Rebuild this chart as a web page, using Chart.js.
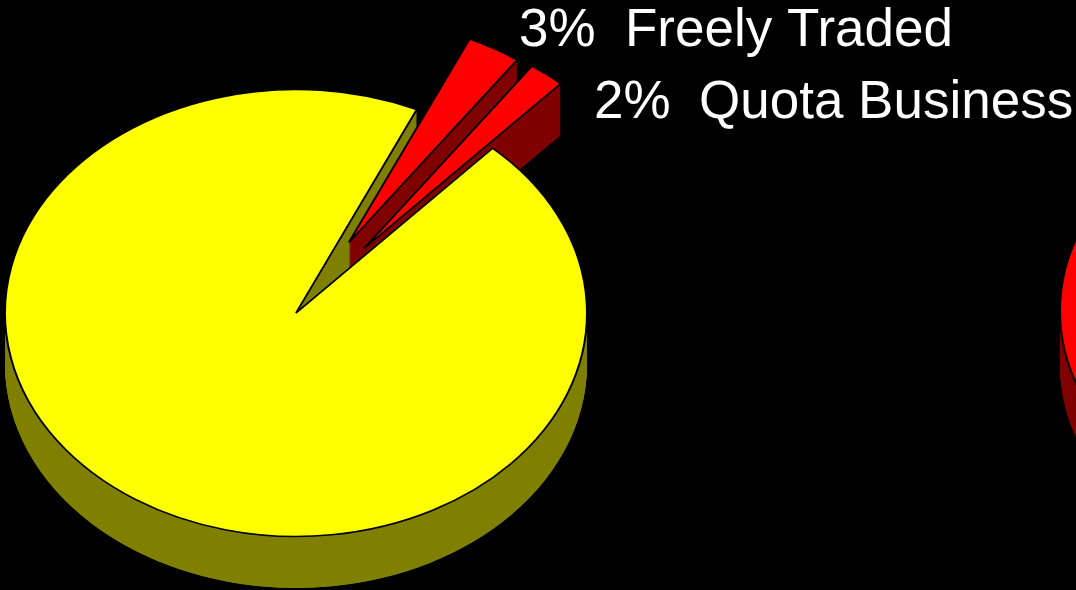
<!DOCTYPE html>
<html lang="en">
<head>
  <meta charset="UTF-8">
  <title>Shares</title>
  <script src="https://cdn.jsdelivr.net/npm/chart.js"></script>
  <style>
    html, body { margin: 0; padding: 0; background: #000; overflow: hidden; }
    body { width: 1076px; height: 590px; position: relative; }
    #mainPie { position: absolute; left: 0; top: 0; }
    #sidePie { position: absolute; left: 1000px; top: 0; }
  </style>
</head>
<body>
  <canvas id="mainPie" width="1076" height="590"></canvas>
  <canvas id="sidePie" width="686" height="622"></canvas>

  <script>
    // Data
    const categories = ["Freely Traded", "Quota Business", "Other"];
    const shares = [3, 2, 95];
    const topColors = ["#ff0000", "#ff0000", "#ffff00"];
    const sideColors = ["#800000", "#800000", "#808000"];

    // second pie, cut off at the right edge
    const rightCategories = ["Freely Traded"];
    const rightShares = [100];

    // 3D look: squash the pie and extrude it downwards
    const pie3d = {
      id: "pie3d",
      beforeDatasetsDraw(chart, args, opts) {
        const ctx = chart.ctx;
        const arcs = chart.getDatasetMeta(0).data;
        if (!arcs.length) return;
        const cx = arcs[0].x, cy = arcs[0].y;
        const depth = Math.round(opts.depth / opts.tilt);

        function drawOne(arc, i, dy, fill, bw) {
          const o = arc.options;
          const mid = (arc.startAngle + arc.endAngle) / 2;
          const off = o.offset || 0;
          ctx.save();
          ctx.translate(Math.cos(mid) * off, Math.sin(mid) * off + dy);
          arc.options = Object.assign({}, o, { offset: 0, backgroundColor: fill, borderWidth: bw });
          arc.draw(ctx);
          arc.options = o;
          ctx.restore();
        }

        ctx.save();
        ctx.translate(cx, cy);
        ctx.scale(1, opts.tilt);
        ctx.translate(-cx, -cy);

        // sides: slices in place first, exploded ones after
        const order = arcs.map((a, i) => i).sort((a, b) => (arcs[a].options.offset || 0) - (arcs[b].options.offset || 0));
        order.forEach(i => {
          const arc = arcs[i];
          for (let d = depth; d >= 1; d--) {
            drawOne(arc, i, d, opts.sideColors[i], d === depth ? arc.options.borderWidth : 0);
          }
        });
        // tops
        arcs.forEach((arc, i) => drawOne(arc, i, 0, arc.options.backgroundColor, arc.options.borderWidth));

        ctx.restore();
        return false;
      }
    };

    // percent + name labels
    const pieLabels = {
      id: "pieLabels",
      afterDraw(chart, args, opts) {
        const ctx = chart.ctx;
        const data = chart.data.datasets[0].data;
        const total = data.reduce((a, b) => a + b, 0);
        ctx.save();
        ctx.fillStyle = "#fff";
        ctx.font = opts.font;
        ctx.textBaseline = "alphabetic";
        opts.spots.forEach(s => {
          const pct = Math.round(data[s.index] / total * 100) + "%";
          ctx.fillText(pct, s.x, s.y);
          ctx.fillText(chart.data.labels[s.index], s.nameX, s.y);
        });
        ctx.restore();
      }
    };

    new Chart(document.getElementById("mainPie"), {
      type: "pie",
      data: {
        labels: categories,
        datasets: [{
          data: shares,
          backgroundColor: topColors,
          borderColor: "#000",
          borderWidth: 2,
          offset: [106, 108, 0]
        }]
      },
      options: {
        responsive: false,
        animation: false,
        events: [],
        rotation: 24.5,
        radius: 291,
        layout: { padding: { left: 0, right: 484, top: 36, bottom: 0 } },
        plugins: {
          legend: { display: false },
          tooltip: { enabled: false },
          pie3d: { tilt: 0.768, depth: 52, sideColors: sideColors },
          pieLabels: {
            font: '53px "Liberation Sans", Arial, sans-serif',
            spots: [
              { index: 0, x: 519, nameX: 625, y: 46 },
              { index: 1, x: 594, nameX: 699, y: 118 }
            ]
          }
        }
      },
      plugins: [pie3d, pieLabels]
    });

    new Chart(document.getElementById("sidePie"), {
      type: "pie",
      data: {
        labels: rightCategories,
        datasets: [{
          data: rightShares,
          backgroundColor: ["#ff0000"],
          borderColor: "#000",
          borderWidth: 2
        }]
      },
      options: {
        responsive: false,
        animation: false,
        events: [],
        radius: 283,
        plugins: {
          legend: { display: false },
          tooltip: { enabled: false },
          pie3d: { tilt: 0.768, depth: 55, sideColors: ["#800000"] }
        }
      },
      plugins: [pie3d]
    });
  </script>
</body>
</html>
